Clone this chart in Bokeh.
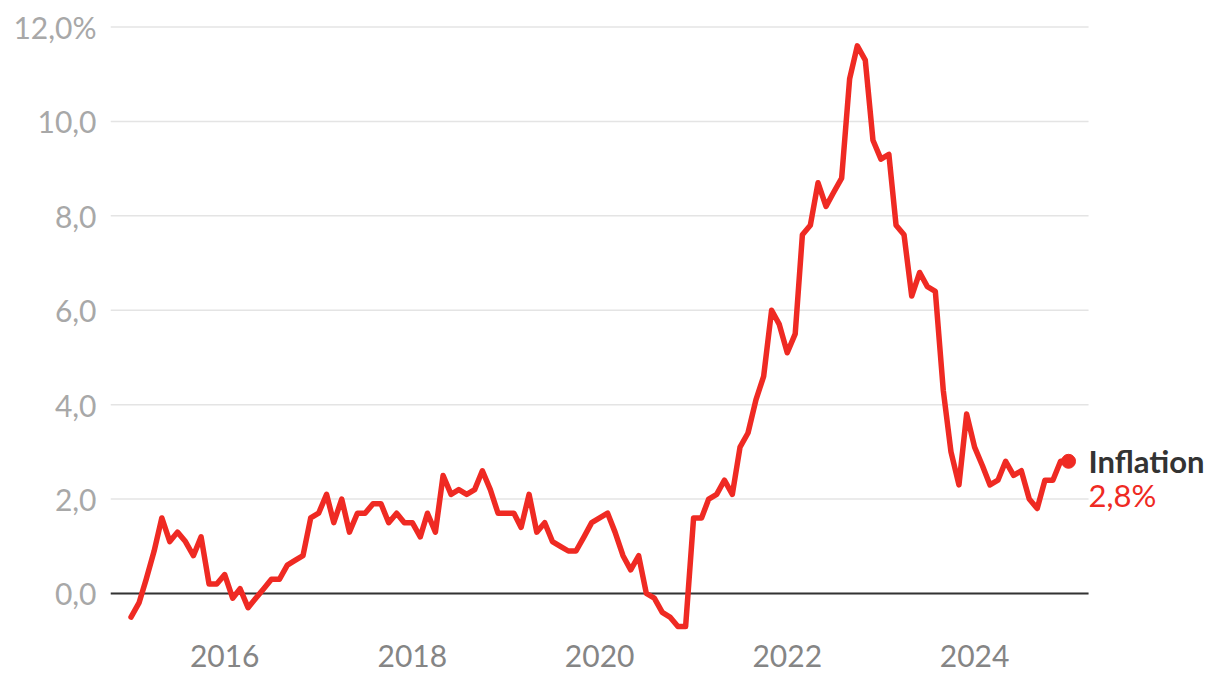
import datetime as dt
import pandas as pd
from bokeh.plotting import figure
from bokeh.models import Range1d, FixedTicker, DatetimeTickFormatter, ColumnDataSource
from bokeh.core.properties import value
from bokeh.embed import file_html
from bokeh.resources import INLINE

# Monthly inflation rate (%), January 2015 - January 2025
months = pd.date_range("2015-01-01", periods=121, freq="MS")
inflation = [
    # 2015
    -0.5, -0.2, 0.3, 0.9, 1.6, 1.1, 1.3, 1.1, 0.8, 1.2, 0.2, 0.2,
    # 2016
    0.4, -0.1, 0.1, -0.3, -0.1, 0.1, 0.3, 0.3, 0.6, 0.7, 0.8, 1.6,
    # 2017
    1.7, 2.1, 1.5, 2.0, 1.3, 1.7, 1.7, 1.9, 1.9, 1.5, 1.7, 1.5,
    # 2018
    1.5, 1.2, 1.7, 1.3, 2.5, 2.1, 2.2, 2.1, 2.2, 2.6, 2.2, 1.7,
    # 2019
    1.7, 1.7, 1.4, 2.1, 1.3, 1.5, 1.1, 1.0, 0.9, 0.9, 1.2, 1.5,
    # 2020
    1.6, 1.7, 1.3, 0.8, 0.5, 0.8, 0.0, -0.1, -0.4, -0.5, -0.7, -0.7,
    # 2021
    1.6, 1.6, 2.0, 2.1, 2.4, 2.1, 3.1, 3.4, 4.1, 4.6, 6.0, 5.7,
    # 2022
    5.1, 5.5, 7.6, 7.8, 8.7, 8.2, 8.5, 8.8, 10.9, 11.6, 11.3, 9.6,
    # 2023
    9.2, 9.3, 7.8, 7.6, 6.3, 6.8, 6.5, 6.4, 4.3, 3.0, 2.3, 3.8,
    # 2024
    3.1, 2.7, 2.3, 2.4, 2.8, 2.5, 2.6, 2.0, 1.8, 2.4, 2.4, 2.8,
    # 2025
    2.8,
]
y_ticks = [0, 2, 4, 6, 8, 10, 12]
y_tick_labels = ["0,0", "2,0", "4,0", "6,0", "8,0", "10,0", "12,0%"]
x_tick_years = [2016, 2018, 2020, 2022, 2024]
series_name = "Inflation"
last_label = "2,8%"

RED = "#ef2a23"
FONT = "Lato"

# layout constants (plot area / gridline extent)
x_start = dt.datetime(2014, 10, 13)
grid_end = dt.datetime(2025, 3, 20)
x_end = dt.datetime(2026, 7, 16)

src = ColumnDataSource(dict(x=months, y=inflation))

p = figure(
    width=1212, height=674,
    x_axis_type="datetime",
    x_range=Range1d(x_start, x_end),
    y_range=Range1d(-0.784, 12.307),
    output_backend="svg", toolbar_location=None,
    min_border_left=110, min_border_right=0,
    min_border_top=12, min_border_bottom=44,
)
p.outline_line_color = None
p.background_fill_color = "white"
p.border_fill_color = "white"
p.xgrid.grid_line_color = None
p.ygrid.grid_line_color = None

# gridlines (limited extent)
p.segment(x0=[x_start] * len(y_ticks), x1=[grid_end] * len(y_ticks),
          y0=y_ticks, y1=y_ticks, line_color="#e4e4e4", line_width=1.5)
# zero line
p.segment(x0=[x_start], x1=[grid_end], y0=[0], y1=[0],
          line_color="#333333", line_width=2)

# y axis
p.yaxis.ticker = FixedTicker(ticks=y_ticks)
p.yaxis.major_label_overrides = {t: l for t, l in zip(y_ticks, y_tick_labels)}
p.yaxis.axis_line_color = None
p.yaxis.major_tick_line_color = None
p.yaxis.minor_tick_line_color = None
p.yaxis.major_label_text_font = FONT
p.yaxis.major_label_text_font_size = "30px"
p.yaxis.major_label_text_color = "#a8a8a8"
p.yaxis.major_label_standoff = 8

# x axis
tick_ms = [dt.datetime(y, 1, 1).timestamp() * 1000 for y in x_tick_years]
p.xaxis.ticker = FixedTicker(ticks=tick_ms)
p.xaxis.formatter = DatetimeTickFormatter(years="%Y", months="%Y", days="%Y",
                                          hours="%Y", minutes="%Y")
p.xaxis.axis_line_color = None
p.xaxis.major_tick_line_color = None
p.xaxis.minor_tick_line_color = None
p.xaxis.major_label_text_font = FONT
p.xaxis.major_label_text_font_size = "30px"
p.xaxis.major_label_text_color = "#858585"
p.xaxis.major_label_standoff = 8

# series
p.line("x", "y", source=src, line_color=RED, line_width=5.5, line_join="round",
       line_cap="round")
p.scatter([months[-1]], [inflation[-1]], size=14, color=RED)

p.text(x=[months[-1]], y=[inflation[-1]], text=[series_name], x_offset=20,
       y_offset=0, text_baseline="middle", text_font=value(FONT),
       text_font_style="bold", text_font_size="31px", text_color="#333333")
p.text(x=[months[-1]], y=[inflation[-1]], text=[last_label], x_offset=20,
       y_offset=34, text_baseline="middle", text_font=value(FONT),
       text_font_size="31px", text_color=RED)

open("out.html", "w").write(file_html(p, INLINE))
